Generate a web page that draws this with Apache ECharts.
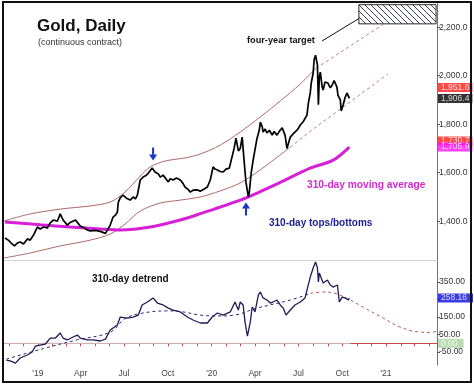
<!DOCTYPE html>
<html><head><meta charset="utf-8">
<script src="https://cdn.jsdelivr.net/npm/echarts@6/dist/echarts.min.js"></script>
<style>html,body{margin:0;padding:0;background:#fff}#c{width:474px;height:385px}</style>
</head><body><div id="c"></div>
<script>
// ---------- data ----------
const xMin = '2018-10-22', xMax = '2021-04-18';
const quarterLabels = [['2019-01-01',"'19"],['2019-04-01','Apr'],['2019-07-01','Jul'],['2019-10-01','Oct'],
  ['2020-01-01',"'20"],['2020-04-01','Apr'],['2020-07-01','Jul'],['2020-10-01','Oct'],['2021-01-01',"'21"]];
const priceTicks = [1400,1600,1800,2000,2200];
const detrendLabels = [-50,50,150,350];
const detrendTicks = [-50,50,150,250,350];

const price = [
['2018-10-24',1331],['2018-10-31',1322],['2018-11-06',1310],['2018-11-13',1298],['2018-11-19',1310],
['2018-11-25',1314],['2018-12-02',1306],['2018-12-10',1327],['2018-12-16',1322],['2018-12-23',1343],
['2018-12-31',1376],['2019-01-06',1368],['2019-01-13',1376],['2019-01-21',1372],['2019-01-27',1393],
['2019-02-03',1405],['2019-02-11',1400],['2019-02-17',1430],['2019-02-23',1405],['2019-03-04',1384],
['2019-03-10',1395],['2019-03-14',1397],['2019-03-21',1405],['2019-03-27',1390],['2019-03-31',1380],
['2019-04-09',1372],['2019-04-15',1364],['2019-04-21',1360],['2019-04-25',1355],['2019-05-02',1362],
['2019-05-06',1355],['2019-05-12',1358],['2019-05-16',1364],['2019-05-23',1350],['2019-05-27',1351],
['2019-06-02',1384],['2019-06-08',1417],['2019-06-13',1425],['2019-06-17',1438],['2019-06-19',1479],
['2019-06-23',1496],['2019-06-29',1508],['2019-07-06',1495],['2019-07-14',1487],['2019-07-20',1500],
['2019-07-25',1492],['2019-07-29',1508],['2019-08-04',1570],['2019-08-10',1582],['2019-08-17',1590],
['2019-08-21',1599],['2019-08-25',1605],['2019-08-29',1619],['2019-09-04',1603],['2019-09-11',1595],
['2019-09-15',1582],['2019-09-21',1590],['2019-09-25',1591],['2019-10-02',1562],['2019-10-06',1575],
['2019-10-12',1570],['2019-10-19',1578],['2019-10-27',1570],['2019-11-02',1555],['2019-11-06',1541],
['2019-11-13',1530],['2019-11-17',1520],['2019-11-23',1528],['2019-12-02',1529],['2019-12-08',1524],
['2019-12-12',1529],['2019-12-18',1535],['2019-12-23',1541],['2019-12-29',1570],['2020-01-04',1624],
['2020-01-08',1615],['2020-01-13',1611],['2020-01-19',1605],['2020-01-25',1603],['2020-01-31',1615],
['2020-02-07',1619],['2020-02-11',1625],['2020-02-17',1700],['2020-02-21',1743],['2020-02-26',1690],
['2020-03-01',1700],['2020-03-05',1747],['2020-03-09',1650],['2020-03-13',1560],['2020-03-18',1500],
['2020-03-20',1520],['2020-03-24',1600],['2020-03-28',1652],['2020-04-01',1660],['2020-04-05',1740],
['2020-04-10',1776],['2020-04-12',1809],['2020-04-16',1790],['2020-04-18',1768],['2020-04-22',1780],
['2020-04-26',1764],['2020-05-01',1775],['2020-05-07',1755],['2020-05-11',1770],['2020-05-17',1755],
['2020-05-24',1776],['2020-05-28',1785],['2020-06-03',1755],['2020-06-07',1700],['2020-06-14',1747],
['2020-06-20',1760],['2020-06-24',1768],['2020-06-30',1780],['2020-07-05',1797],['2020-07-11',1810],
['2020-07-15',1817],['2020-07-19',1838],['2020-07-22',1887],['2020-07-26',1930],['2020-07-28',1970],
['2020-08-01',2011],['2020-08-03',2065],['2020-08-06',2085],['2020-08-10',2044],['2020-08-12',1880],
['2020-08-14',1995],['2020-08-16',2015],['2020-08-20',1953],['2020-08-22',1941],['2020-08-26',1974],
['2020-09-01',1970],['2020-09-06',1950],['2020-09-10',1962],['2020-09-14',1980],['2020-09-16',1974],
['2020-09-20',1953],['2020-09-22',1920],['2020-09-27',1900],['2020-09-29',1855],['2020-10-03',1880],
['2020-10-07',1910],['2020-10-11',1929],['2020-10-16',1906.4]
];
const movingAvg = [
['2018-10-24',1397],['2019-01-06',1385],['2019-03-10',1376],['2019-05-12',1368],['2019-06-23',1364],
['2019-08-25',1376],['2019-10-27',1405],['2019-12-08',1431],['2020-03-01',1487],['2020-04-12',1522],
['2020-05-24',1560],['2020-07-05',1600],['2020-07-26',1619],['2020-09-12',1652],['2020-10-16',1705.9]
];
const upperBand = [
['2018-10-22',1401],['2018-12-16',1430],['2019-02-17',1450],['2019-04-21',1463],['2019-06-02',1479],
['2019-07-03',1520],['2019-08-04',1586],['2019-08-25',1624],['2019-09-25',1648],['2019-11-06',1661],
['2019-12-08',1677],['2020-01-19',1714],['2020-03-01',1768],['2020-04-12',1830],['2020-05-24',1896],
['2020-07-05',1966],['2020-08-07',2031]
];
const upperProj = [['2020-08-07',2031],['2020-12-30',2217]];
const lowerBand = [
['2018-10-22',1248],['2018-12-16',1269],['2019-02-17',1298],['2019-04-21',1322],['2019-06-02',1347],
['2019-07-03',1388],['2019-08-04',1442],['2019-09-15',1475],['2019-10-27',1487],['2019-12-08',1500],
['2020-01-19',1525],['2020-03-01',1558],['2020-04-12',1612],['2020-05-13',1657],['2020-06-14',1706]
];
const lowerProj = [['2020-06-14',1706],['2020-08-01',1780],['2021-01-05',2007]];
const target = [['2020-11-05',2293],['2021-04-16',2214]];
const lastTop = [1951.6, 1906.4, 1730.7, 1705.9];

const detrend = [
['2018-10-27',-96],['2018-11-04',-101],['2018-11-15',-113],['2018-11-25',-84],['2018-12-10',-67],
['2018-12-20',-50],['2018-12-27',-16],['2019-01-06',-10],['2019-01-17',-4],['2019-01-27',30],
['2019-02-07',30],['2019-02-17',59],['2019-02-23',30],['2019-03-04',19],['2019-03-16',36],
['2019-03-25',47],['2019-03-31',30],['2019-04-15',19],['2019-04-27',19],['2019-05-12',13],
['2019-05-23',24],['2019-06-02',76],['2019-06-17',104],['2019-06-23',150],['2019-07-08',144],
['2019-07-20',150],['2019-07-31',161],['2019-08-08',219],['2019-08-19',236],['2019-08-31',259],
['2019-09-09',230],['2019-09-21',219],['2019-10-02',201],['2019-10-12',190],['2019-10-27',179],
['2019-11-11',150],['2019-11-23',133],['2019-12-08',116],['2019-12-23',116],['2020-01-02',150],
['2020-01-13',173],['2020-01-25',161],['2020-02-09',179],['2020-02-19',236],['2020-02-26',190],
['2020-03-01',236],['2020-03-07',219],['2020-03-11',121],['2020-03-16',41],['2020-03-22',121],
['2020-03-26',207],['2020-04-01',179],['2020-04-08',276],['2020-04-12',293],['2020-04-18',259],
['2020-04-26',247],['2020-05-03',230],['2020-05-09',236],['2020-05-17',247],['2020-05-24',219],
['2020-05-30',201],['2020-06-05',161],['2020-06-14',190],['2020-06-24',219],['2020-07-05',236],
['2020-07-15',259],['2020-07-19',304],['2020-07-26',379],['2020-08-01',430],['2020-08-06',464],
['2020-08-10',430],['2020-08-12',350],['2020-08-14',401],['2020-08-22',344],['2020-08-31',361],
['2020-09-06',333],['2020-09-12',321],['2020-09-21',333],['2020-09-25',236],['2020-10-01',264],
['2020-10-07',259],['2020-10-14',247],['2020-10-16',258.16]
];
const cycleFit = [
['2018-10-27',-90],['2019-01-13',-30],['2019-03-25',20],['2019-06-02',64],['2019-07-03',140],
['2019-08-04',170],['2019-09-29',185],['2019-11-02',179],['2019-12-08',161],['2020-01-13',156],
['2020-02-17',161],['2020-04-05',201],['2020-06-14',247],['2020-07-26',285]
];
const cycleProj = [
['2020-07-26',285],['2020-08-22',293],['2020-09-16',285],['2020-10-18',247],['2020-11-18',200],
['2020-12-26',144],['2021-01-30',93],['2021-03-13',64],['2021-04-03',62],['2021-04-18',70]
];
const zeroLine = [['2018-10-22',0],['2020-10-18',0]];
const lastBottom = [258.16, 0];

// ---------- helpers ----------
const t = s => { const [y,m,d] = s.split('-').map(Number); return Date.UTC(y, m-1, d); };
const P = arr => arr.map(([d,v]) => [t(d), v]);
const FONT = 'Liberation Sans, Arial, sans-serif';
const labelMap = {}; quarterLabels.forEach(([d,l]) => labelMap[t(d)] = l);
const monthTicks = [];
for (let y = 2018, m = 10; y < 2021 || m <= 3; ) { monthTicks.push(Date.UTC(y, m, 1)); m++; if (m > 11) { m = 0; y++; } }
const fmt1 = v => v.toLocaleString('en-US', {minimumFractionDigits:1, maximumFractionDigits:1});
const fmt2 = v => v.toFixed(2);

// hatch pattern
const pc = document.createElement('canvas'); pc.width = 6; pc.height = 6;
const g = pc.getContext('2d'); g.fillStyle = '#fff'; g.fillRect(0,0,6,6);
g.strokeStyle = '#3c3c5c'; g.lineWidth = 1;
g.beginPath(); g.moveTo(-1,-1); g.lineTo(7,7); g.moveTo(-1,5); g.lineTo(1,7); g.moveTo(5,-1); g.lineTo(7,1); g.stroke();

const RED_AX = '#cc4a4a';
const topTagColors = ['#ff1c1c', '#000000', '#ff1c1c', '#ff10ff'];
const botTagColors = ['#0a0ae0', '#a9d3a0'];

const chart = echarts.init(document.getElementById('c'), null, {renderer: 'canvas'});
const maxT = t(xMax);

chart.setOption({
  animation: false,
  backgroundColor: '#fff',
  grid: [
    {left: 4, right: 37, top: 3, height: 257},
    {left: 4, right: 37, top: 261, height: 104}
  ],
  xAxis: [
    {type: 'value', gridIndex: 0, min: t(xMin), max: maxT,
     axisLine: {show: true, lineStyle: {color: '#d4d4d4'}}, axisTick: {show: false}, axisLabel: {show: false}, splitLine: {show: false}},
    {type: 'value', gridIndex: 1, min: t(xMin), max: maxT,
     axisLine: {show: true, lineStyle: {color: RED_AX}},
     axisTick: {show: true, customValues: monthTicks, length: 3, lineStyle: {color: RED_AX}},
     axisLabel: {show: true, customValues: quarterLabels.map(q => t(q[0])), formatter: v => labelMap[v] || '',
                 fontSize: 8.5, color: '#444', fontFamily: FONT, margin: 4, hideOverlap: false},
     splitLine: {show: false}}
  ],
  yAxis: [
    {type: 'value', gridIndex: 0, position: 'right', min: 1240, max: 2300,
     axisLine: {show: true, lineStyle: {color: RED_AX}},
     axisTick: {show: true, customValues: priceTicks, length: 3, lineStyle: {color: '#555'}},
     axisLabel: {show: true, customValues: priceTicks, formatter: v => fmt1(v), fontSize: 8.5, color: '#333', fontFamily: FONT, margin: 2},
     splitLine: {show: false}},
    {type: 'value', gridIndex: 1, position: 'right', min: -124, max: 470,
     axisLine: {show: true, lineStyle: {color: RED_AX}},
     axisTick: {show: true, customValues: detrendTicks, length: 3, lineStyle: {color: '#555'}},
     axisLabel: {show: true, customValues: detrendLabels, formatter: v => fmt2(v), fontSize: 8.5, color: '#333', fontFamily: FONT, margin: 2},
     splitLine: {show: false}}
  ],
  series: [
    {type: 'line', xAxisIndex: 0, yAxisIndex: 0, data: P(upperBand), smooth: 0.3, symbol: 'none', lineStyle: {color: '#b06868', width: 1}, z: 2},
    {type: 'line', xAxisIndex: 0, yAxisIndex: 0, data: P(lowerBand), smooth: 0.3, symbol: 'none', lineStyle: {color: '#b06868', width: 1}, z: 2},
    {type: 'line', xAxisIndex: 0, yAxisIndex: 0, data: P(upperProj), symbol: 'none', lineStyle: {color: '#c07a7a', width: 1, type: [3,3]}, z: 2,
     markArea: {silent: true, itemStyle: {color: {image: pc, repeat: 'repeat'}, borderColor: '#2a2a2a', borderWidth: 1},
       data: [[{coord: [t(target[0][0]), target[0][1]]}, {coord: [t(target[1][0]), target[1][1]]}]]}},
    {type: 'line', xAxisIndex: 0, yAxisIndex: 0, data: P(lowerProj), symbol: 'none', lineStyle: {color: '#c07a7a', width: 1, type: [3,3]}, z: 2},
    {type: 'line', xAxisIndex: 0, yAxisIndex: 0, data: P(movingAvg), smooth: 0.3, symbol: 'none', lineStyle: {color: '#d81fd8', width: 3}, z: 3},
    {type: 'line', xAxisIndex: 0, yAxisIndex: 0, data: P(price), symbol: 'none', lineStyle: {color: '#000', width: 1.7}, z: 4,
     markPoint: {silent: true, symbol: 'path://M3,0 L5,0 L5,7 L8,7 L4,13 L0,7 L3,7 Z', symbolSize: [8,13], symbolKeepAspect: false,
       itemStyle: {color: '#1a35c8'}, label: {show: false},
       data: [{coord: [t('2019-08-31'), 1677]}, {coord: [t('2020-03-13'), 1450], symbolRotate: 180}]}},
    {type: 'scatter', xAxisIndex: 0, yAxisIndex: 0, symbolSize: 0, clip: false, z: 10,
     data: lastTop.map((v,i) => ({value: [maxT, v], label: {backgroundColor: topTagColors[i]}})),
     label: {show: true, position: 'right', distance: 1, formatter: p => fmt1(p.value[1]), color: '#fff',
             fontSize: 8.5, fontFamily: FONT, padding: [1,3,0,3], lineHeight: 8}},

    {type: 'line', xAxisIndex: 1, yAxisIndex: 1, data: P(zeroLine), symbol: 'none', lineStyle: {color: '#cfcfcf', width: 1}, z: 1},
    {type: 'line', xAxisIndex: 1, yAxisIndex: 1, data: P(cycleFit), smooth: 0.4, symbol: 'none', lineStyle: {color: '#2a2a70', width: 1, type: [3,3]}, z: 2},
    {type: 'line', xAxisIndex: 1, yAxisIndex: 1, data: P(cycleProj), smooth: 0.4, symbol: 'none', lineStyle: {color: '#b05a5a', width: 1, type: [3,3]}, z: 2},
    {type: 'line', xAxisIndex: 1, yAxisIndex: 1, data: P(detrend), symbol: 'none', lineStyle: {color: '#1c1c5a', width: 1.3}, z: 3},
    {type: 'scatter', xAxisIndex: 1, yAxisIndex: 1, symbolSize: 0, clip: false, z: 10,
     data: lastBottom.map((v,i) => ({value: [maxT, v], label: {backgroundColor: botTagColors[i]}})),
     label: {show: true, position: 'right', distance: 1, formatter: p => fmt2(p.value[1]), color: '#fff',
             fontSize: 8.5, fontFamily: FONT, padding: [1,6,0,3], lineHeight: 8}}
  ],
  graphic: [
    {type: 'rect', shape: {x: 3, y: 2, width: 468, height: 380}, style: {fill: 'none', stroke: '#111', lineWidth: 2}, z: 100},
    {type: 'text', x: 37, y: 26, style: {text: 'Gold, Daily', font: 'bold 17px ' + FONT, fill: '#111', textVerticalAlign: 'middle'}},
    {type: 'text', x: 38, y: 43, style: {text: '(continuous contract)', font: '9px ' + FONT, fill: '#333', textVerticalAlign: 'middle'}},
    {type: 'text', x: 247, y: 40, style: {text: 'four-year target', font: 'bold 9.2px ' + FONT, fill: '#111', textVerticalAlign: 'middle'}},
    {type: 'line', shape: {x1: 322, y1: 41, x2: 368, y2: 13}, style: {stroke: '#111', lineWidth: 1}},
    {type: 'text', x: 307, y: 185, style: {text: '310-day moving average', font: 'bold 10.2px ' + FONT, fill: '#d42ad4', textVerticalAlign: 'middle'}},
    {type: 'text', x: 269, y: 223, style: {text: '310-day tops/bottoms', font: 'bold 10px ' + FONT, fill: '#1c1c96', textVerticalAlign: 'middle'}},
    {type: 'text', x: 92, y: 279, style: {text: '310-day detrend', font: 'bold 10px ' + FONT, fill: '#111', textVerticalAlign: 'middle'}}
  ]
});
</script></body></html>
